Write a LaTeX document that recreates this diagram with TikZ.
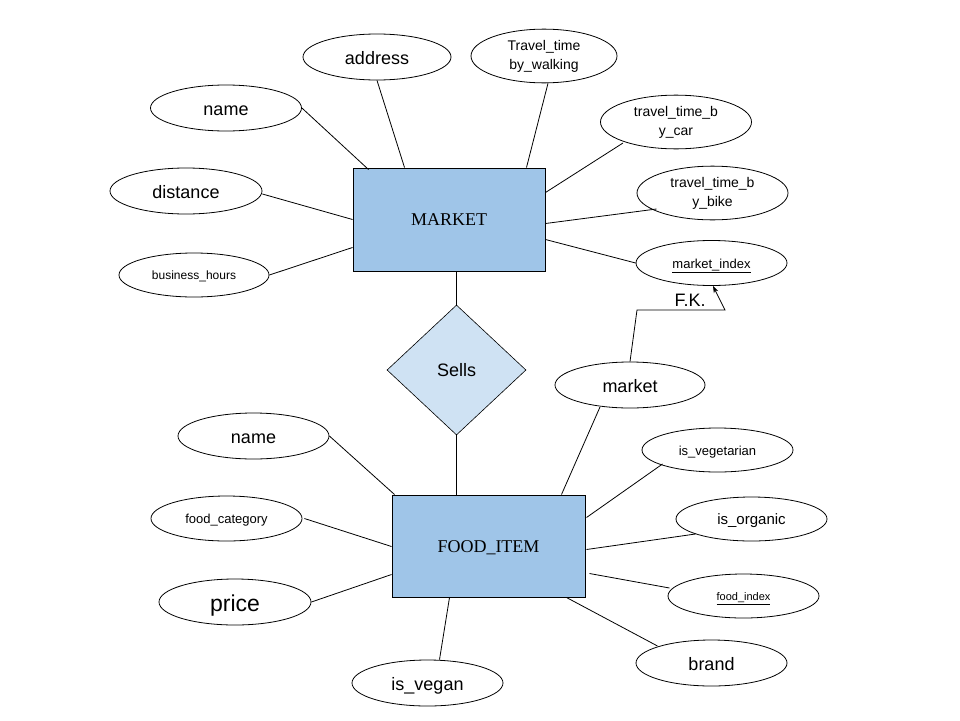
\documentclass[tikz,border=0pt]{standalone}
\usepackage{fontspec}
\setmainfont{Liberation Sans}
\newfontfamily\entityfont{Liberation Serif}
\usetikzlibrary{shapes.geometric,arrows.meta}
\definecolor{entblue}{HTML}{9FC5E8}
\definecolor{relblue}{HTML}{CFE2F3}
\newcommand{\fsz}[1]{\fontsize{#1}{#1}\selectfont}
\newcommand{\twolines}[2]{{\fontsize{14}{19}\selectfont
  \begin{tabular}{@{}c@{}}#1\\#2\end{tabular}}}
\begin{document}
\begin{tikzpicture}[x=1pt,y=-1pt,
  attr/.style={ellipse,draw,line width=0.8pt,fill=white,minimum width=151pt,
    minimum height=46pt,inner sep=0pt},
  s18/.style={font=\fsz{18},text height=14pt,text depth=0pt},
  s23/.style={font=\fsz{23},text height=18pt,text depth=0pt},
  s15/.style={font=\fsz{15},text height=11.7pt,text depth=0pt},
  s13/.style={font=\fsz{13},text height=10.1pt,text depth=0pt},
  s12/.style={font=\fsz{12},text height=9.4pt,text depth=0pt},
  s11/.style={font=\fsz{11},text height=8.6pt,text depth=0pt},
  entity/.style={rectangle,draw,line width=1pt,fill=entblue,inner sep=0pt,
    font=\entityfont\fsz{18},text height=12pt,text depth=0pt},
  rel/.style={diamond,draw,line width=0.6pt,fill=relblue,inner sep=0pt,
    minimum width=139pt,minimum height=130pt,font=\fsz{18}},
  conn/.style={line width=0.8pt}]
\useasboundingbox (0,0) rectangle (960,720);

% entities and relationship
\node[entity,minimum width=192pt,minimum height=103pt] (market) at (449,219.5) {MARKET};
\node[rel] (sells) at (456.5,370) {Sells};
\node[entity,minimum width=193pt,minimum height=102pt] (food) at (488.5,546) {FOOD\_ITEM};

% attributes of MARKET
\node[attr,s18,minimum width=148pt] (maddr) at (377,57) {address};
\node[attr,minimum width=146pt,minimum height=45pt] (mwalk) at (544,56) {\twolines{Travel\_time}{by\_walking}};
\node[attr,s18] (mname) at (226,108) {name};
\node[attr,minimum height=45pt] (mcar) at (676,122) {\twolines{travel\_time\_b}{y\_car}};
\node[attr,s18,minimum width=152pt] (mdist) at (186,191) {distance};
\node[attr,minimum height=45pt] (mbike) at (712.5,193) {\twolines{travel\_time\_b}{y\_bike}};
\node[attr,s12,minimum width=150pt,minimum height=44pt] (mbiz) at (194,275) {business\_hours};
\node[attr,s13,minimum height=45pt] (midx) at (711.5,263) {\underline{market\_index}};

% attributes of FOOD_ITEM
\node[attr,s18,minimum width=150pt] (fmarket) at (630,385) {market};
\node[attr,s18] (fname) at (253.5,436) {name};
\node[attr,s13,minimum height=45pt] (fcat) at (226.5,518.5) {food\_category};
\node[attr,s23,minimum width=152pt] (fprice) at (235,602) {price};
\node[attr,s18] (fvegan) at (427.5,683) {is\_vegan};
\node[attr,s13,minimum height=44pt] (fveg) at (717.5,450) {is\_vegetarian};
\node[attr,s15,minimum height=44pt] (forg) at (751.5,519) {is\_organic};
\node[attr,s11,minimum height=44pt] (fidx) at (743.5,596) {\underline{food\_index}};
\node[attr,s18] (fbrand) at (711.5,663) {brand};

% relationship links
\draw[conn] (sells.north) -- (sells.north |- market.south);
\draw[conn] (sells.south) -- (sells.south |- food.north);

% MARKET links
\draw[conn] (mname.east) -- ([shift={(16,2)}]market.north west);
\draw[conn] (maddr.south) -- ([shift={(52,0)}]market.north west);
\draw[conn] ([xshift=4pt]mwalk.south) -- ([shift={(174,0)}]market.north west);
\draw[conn] ([shift={(-53,21)}]mcar.center) -- ([shift={(0,25)}]market.north east);
\draw[conn] ([shift={(-56,16)}]mbike.center) -- ([shift={(0,56)}]market.north east);
\draw[conn] (midx.west) -- ([shift={(0,72)}]market.north east);
\draw[conn] ([yshift=-3pt]mdist.east) -- ([shift={(0,52)}]market.north west);
\draw[conn] (mbiz.east) -- ([shift={(0,80)}]market.north west);

% foreign key reference
\coordinate (fkbend) at (637,310);
\coordinate (fkcorner) at (725,310);
\draw[conn,-{Stealth[length=7pt,width=5pt]}] (fmarket.north) -- (fkbend) -- (fkcorner)
  -- ([shift={(1.5,23)}]midx.center);
\node[font=\fsz{18}] (fk) at (690,300) {F.K.};

% FOOD_ITEM links
\draw[conn] (fname.east) -- ([shift={(3,0)}]food.north west);
\draw[conn] ([xshift=2pt]fcat.east) -- ([shift={(0,52)}]food.north west);
\draw[conn] (fprice.east) -- ([shift={(0,80)}]food.north west);
\draw[conn] ([xshift=12pt]fvegan.north) -- ([shift={(58,0)}]food.south west);
\draw[conn] ([shift={(-30,22)}]fmarket.center) -- ([shift={(170,0)}]food.north west);
\draw[conn] ([shift={(-55,14)}]fveg.center) -- ([shift={(1,23)}]food.north east);
\draw[conn] ([shift={(-56,15)}]forg.center) -- ([shift={(1,55)}]food.north east);
\draw[conn] ([shift={(-74,-8)}]fidx.center) -- ([shift={(4,79)}]food.north east);
\draw[conn] ([shift={(-54,-17)}]fbrand.center) -- ([shift={(-19,0)}]food.south east);
\end{tikzpicture}
\end{document}
